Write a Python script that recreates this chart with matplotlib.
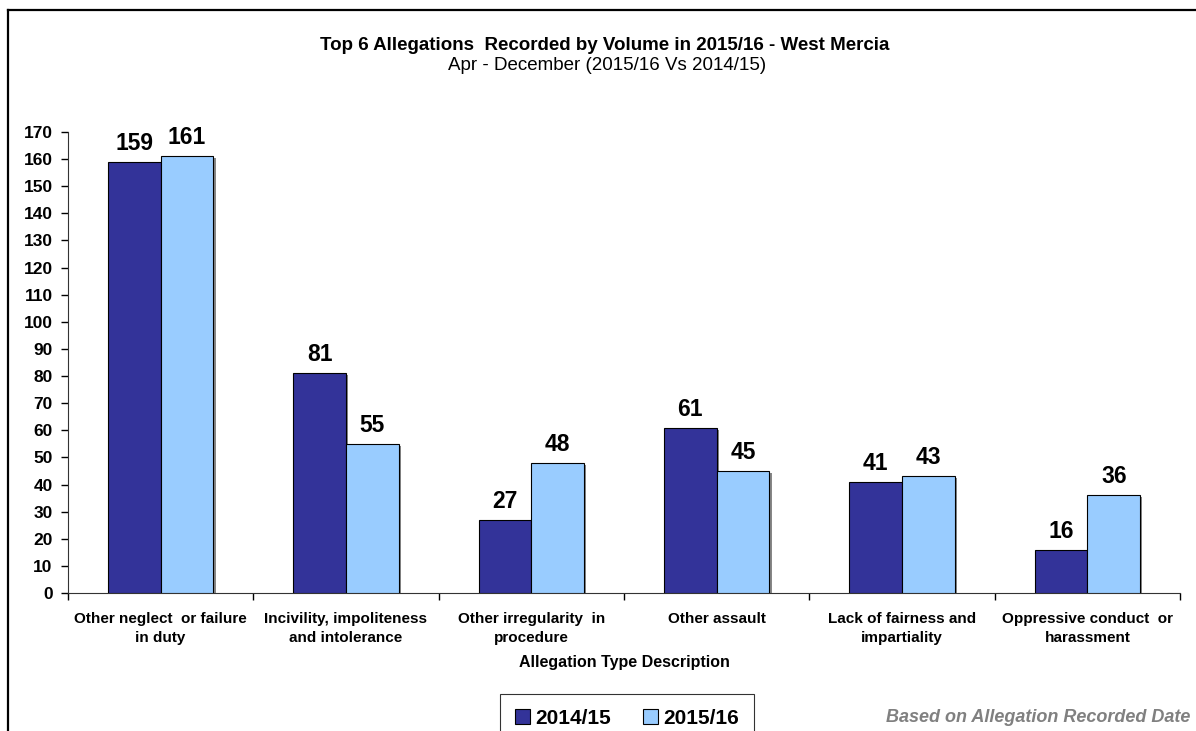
import matplotlib
matplotlib.use("Agg")
import matplotlib.pyplot as plt
import matplotlib.patheffects as pe
from matplotlib.lines import Line2D
from matplotlib.patches import Patch
import numpy as np

categories = ["Other neglect  or failure\nin duty",
              "Incivility, impoliteness\nand intolerance",
              "Other irregularity  in\nprocedure",
              "Other assault",
              "Lack of fairness and\nimpartiality",
              "Oppressive conduct  or\nharassment"]
series_names = ["2014/15", "2015/16"]
values_2014 = [159, 81, 27, 61, 41, 16]
values_2015 = [161, 55, 48, 45, 43, 36]
yticks = list(range(0, 171, 10))

title = "Top 6 Allegations  Recorded by Volume in 2015/16 - West Mercia"
subtitle = "Apr - December (2015/16 Vs 2014/15)"
xlabel = "Allegation Type Description"
note = "Based on Allegation Recorded Date"

colors = ["#333399", "#99CCFF"]

plt.rcParams['font.family'] = ['Liberation Sans', 'DejaVu Sans']

W, H = 1196, 731
fig = plt.figure(figsize=(W/100, H/100), dpi=100)
ax = fig.add_axes([68/W, 1-593/H, (1180-68)/W, (593-132)/H])

x = np.arange(len(categories))
bw = 0.285
shadow = [pe.SimplePatchShadow(offset=(1.5, -1.5), shadow_rgbFace='#555555', alpha=0.7), pe.Normal()]
b1 = ax.bar(x - bw/2, values_2014, bw, color=colors[0], edgecolor='black', linewidth=0.8, path_effects=shadow, zorder=3)
b2 = ax.bar(x + bw/2, values_2015, bw, color=colors[1], edgecolor='black', linewidth=0.8, path_effects=shadow, zorder=3)
for bars in (b1, b2):
    ax.bar_label(bars, padding=5, fontsize=16.5, fontweight='bold')

ax.set_xlim(-0.5, len(categories) - 0.5)
ax.set_ylim(0, 170)
ax.set_yticks(yticks)
ax.set_yticklabels([str(t) for t in yticks], fontsize=12.5, fontweight='bold')
ax.set_xticks(np.arange(len(categories) + 1) - 0.5)
ax.set_xticklabels([])
ax.set_xticks(x, minor=True)
ax.set_xticklabels(categories, minor=True, fontsize=11, fontweight='bold', linespacing=1.4)
ax.tick_params(axis='x', which='minor', length=0, pad=14)
ax.tick_params(axis='x', which='major', length=5, width=1, direction='out')
ax.tick_params(axis='y', length=5, width=1, direction='out', pad=6)
for s in ['top', 'right']:
    ax.spines[s].set_visible(False)
ax.spines['left'].set_color('#333333')
ax.spines['bottom'].set_color('#333333')
ax.set_xlabel(xlabel, fontsize=11.5, fontweight='bold', labelpad=7)

fig.text(605/W, 1-45/H, title, ha='center', va='center', fontsize=13.5, fontweight='bold')
fig.text(607/W, 1-65/H, subtitle, ha='center', va='center', fontsize=13.5)

handles = [Patch(facecolor=colors[0], edgecolor='black', linewidth=0.8),
           Patch(facecolor=colors[1], edgecolor='black', linewidth=0.8)]
leg = fig.legend(handles, series_names, loc='upper center', bbox_to_anchor=(627/W, 1-694/H), ncol=2,
                 frameon=True, fancybox=False, edgecolor='black',
                 prop={'weight': 'bold', 'size': 15}, handlelength=0.75, handleheight=0.75,
                 handletextpad=0.25, columnspacing=1.5, borderpad=0.7, borderaxespad=0)
leg.get_frame().set_linewidth(0.8)

fig.text(1190/W, 1-717/H, note, ha='right', va='center', fontsize=13, fontweight='bold',
         style='italic', color='#808080')

fig.add_artist(Line2D([8/W, 1.0], [1-10/H, 1-10/H], color='black', linewidth=1.6, transform=fig.transFigure))
fig.add_artist(Line2D([8/W, 8/W], [0, 1-10/H], color='black', linewidth=1.6, transform=fig.transFigure))

fig.savefig("out.png", dpi=100)
